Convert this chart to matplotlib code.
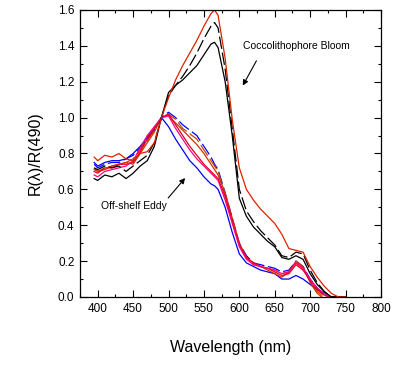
import matplotlib
matplotlib.use("Agg")
import matplotlib.pyplot as plt
from matplotlib.ticker import MultipleLocator, FormatStrFormatter

plt.rcParams["font.family"] = ["Liberation Sans", "DejaVu Sans"]

# ---------------------------------------------------------------------------
# Data
# ---------------------------------------------------------------------------
WL = [395, 400, 410, 420, 430, 440, 450, 460, 470, 480, 490, 500, 510, 520,
      530, 540, 550, 560, 565, 570, 580, 590, 600, 610, 620, 630, 640, 650,
      660, 670, 680, 690, 700, 710, 720, 730, 740, 750]

# Coccolithophore bloom
bloom_red = [0.78, 0.76, 0.79, 0.78, 0.80, 0.77, 0.76, 0.80, 0.81, 0.86, 1.00,
             1.11, 1.21, 1.29, 1.36, 1.43, 1.51, 1.58, 1.60, 1.57, 1.33, 0.99,
             0.72, 0.60, 0.54, 0.49, 0.45, 0.41, 0.35, 0.27, 0.26, 0.25, 0.17,
             0.11, 0.06, 0.02, 0.00, 0.00]
bloom_dash = [0.72, 0.71, 0.73, 0.72, 0.73, 0.70, 0.73, 0.76, 0.79, 0.86, 1.00,
              1.12, 1.18, 1.23, 1.29, 1.36, 1.44, 1.51, 1.53, 1.50, 1.27, 0.94,
              0.60, 0.48, 0.42, 0.37, 0.33, 0.29, 0.23, 0.22, 0.25, 0.24, 0.15,
              0.08, 0.03, 0.00, 0.00, 0.00]
bloom_black = [0.66, 0.65, 0.68, 0.67, 0.69, 0.66, 0.69, 0.73, 0.76, 0.84, 1.00,
               1.14, 1.18, 1.21, 1.25, 1.29, 1.35, 1.41, 1.42, 1.39, 1.20, 0.90,
               0.55, 0.45, 0.39, 0.35, 0.31, 0.28, 0.22, 0.21, 0.23, 0.21, 0.13,
               0.07, 0.03, 0.00, 0.00, 0.00]

# Off-shelf eddy
eddy_blue = [0.75, 0.73, 0.75, 0.76, 0.76, 0.77, 0.80, 0.84, 0.89, 0.94, 1.00,
             0.95, 0.88, 0.82, 0.76, 0.72, 0.67, 0.63, 0.62, 0.60, 0.50, 0.36,
             0.24, 0.19, 0.17, 0.15, 0.14, 0.13, 0.10, 0.10, 0.12, 0.10, 0.07,
             0.04, 0.02, 0.00, 0.00, 0.00]
eddy_pink = [0.68, 0.67, 0.70, 0.71, 0.72, 0.73, 0.76, 0.83, 0.90, 0.95, 1.00,
             1.01, 0.94, 0.88, 0.82, 0.77, 0.73, 0.69, 0.67, 0.65, 0.54, 0.41,
             0.28, 0.21, 0.18, 0.17, 0.16, 0.15, 0.13, 0.14, 0.19, 0.16, 0.10,
             0.05, 0.02, 0.00, 0.00, 0.00]
eddy_red = [0.70, 0.69, 0.72, 0.72, 0.74, 0.74, 0.75, 0.81, 0.88, 0.94, 1.00,
            1.02, 0.96, 0.90, 0.84, 0.79, 0.74, 0.70, 0.68, 0.66, 0.56, 0.42,
            0.29, 0.22, 0.19, 0.17, 0.16, 0.14, 0.12, 0.13, 0.18, 0.15, 0.09,
            0.04, 0.01, 0.00, 0.00, 0.00]
eddy_orange = [0.71, 0.70, 0.71, 0.73, 0.74, 0.75, 0.74, 0.80, 0.86, 0.92, 1.00,
               1.01, 0.97, 0.93, 0.89, 0.85, 0.80, 0.74, 0.71, 0.68, 0.58, 0.44,
               0.30, 0.22, 0.19, 0.17, 0.15, 0.13, 0.11, 0.14, 0.20, 0.17, 0.08,
               0.02, -0.01, 0.00, 0.00, 0.00]
eddy_blue_dash = [0.74, 0.72, 0.74, 0.75, 0.75, 0.77, 0.79, 0.83, 0.88, 0.93, 1.00,
                  1.03, 1.00, 0.96, 0.93, 0.90, 0.84, 0.78, 0.74, 0.71, 0.58, 0.44,
                  0.30, 0.23, 0.19, 0.18, 0.17, 0.16, 0.14, 0.15, 0.20, 0.17, 0.10,
                  0.05, 0.01, 0.00, 0.00, 0.00]
eddy_orange_dash = [0.72, 0.70, 0.72, 0.73, 0.74, 0.75, 0.77, 0.82, 0.87, 0.93, 1.00,
                    1.02, 0.99, 0.94, 0.91, 0.88, 0.82, 0.76, 0.73, 0.70, 0.57, 0.43,
                    0.29, 0.22, 0.18, 0.17, 0.16, 0.15, 0.13, 0.14, 0.19, 0.16, 0.09,
                    0.03, 0.00, 0.00, 0.00, 0.00]

# ---------------------------------------------------------------------------
# Figure
# ---------------------------------------------------------------------------
fig = plt.figure(figsize=(4.01, 3.81), dpi=100)
ax = fig.add_axes([0.1995, 0.2205, 0.7505, 0.7533])

LW = 0.9
DASH = (10, 3)

ax.plot(WL, eddy_blue, color="#0000FF", lw=LW)
ax.plot(WL, eddy_blue_dash, color="#0000FF", lw=LW, dashes=DASH)
ax.plot(WL, eddy_orange_dash, color="#CC4400", lw=LW, dashes=DASH)
ax.plot(WL, eddy_orange, color="#CC3300", lw=LW)
ax.plot(WL, eddy_red, color="#E00020", lw=LW)
ax.plot(WL, eddy_pink, color="#FF0080", lw=LW)
ax.plot(WL, bloom_black, color="black", lw=LW)
ax.plot(WL, bloom_dash, color="black", lw=LW, dashes=DASH)
ax.plot(WL, bloom_red, color="#DD2200", lw=LW)

ax.set_xlim(375, 800)
ax.set_ylim(0.0, 1.6)
ax.xaxis.set_major_locator(MultipleLocator(50))
ax.xaxis.set_minor_locator(MultipleLocator(25))
ax.yaxis.set_major_locator(MultipleLocator(0.2))
ax.yaxis.set_minor_locator(MultipleLocator(0.1))
ax.yaxis.set_major_formatter(FormatStrFormatter("%.1f"))
ax.tick_params(which="both", direction="in", top=True, right=True,
               labelsize=8.5, width=0.8)
ax.tick_params(which="major", length=5, pad=4)
ax.tick_params(which="minor", length=2.5)
for spine in ax.spines.values():
    spine.set_linewidth(0.9)

ax.set_xlabel("Wavelength (nm)", fontsize=11.5, labelpad=18)
ax.set_ylabel("R(\u03bb)/R(490)", fontsize=11.5, labelpad=11)

ax.annotate("", xy=(603, 1.165), xytext=(626, 1.33),
            arrowprops=dict(arrowstyle="-|>", color="black", lw=0.8,
                            mutation_scale=8))
ax.text(605, 1.40, "Coccolithophore Bloom", fontsize=7.5, ha="left",
        va="center")
ax.annotate("", xy=(526, 0.675), xytext=(497, 0.54),
            arrowprops=dict(arrowstyle="-|>", color="black", lw=0.8,
                            mutation_scale=8))
ax.text(451, 0.51, "Off-shelf Eddy", fontsize=7.5, ha="center", va="center")

fig.savefig("out.png", dpi=100)
